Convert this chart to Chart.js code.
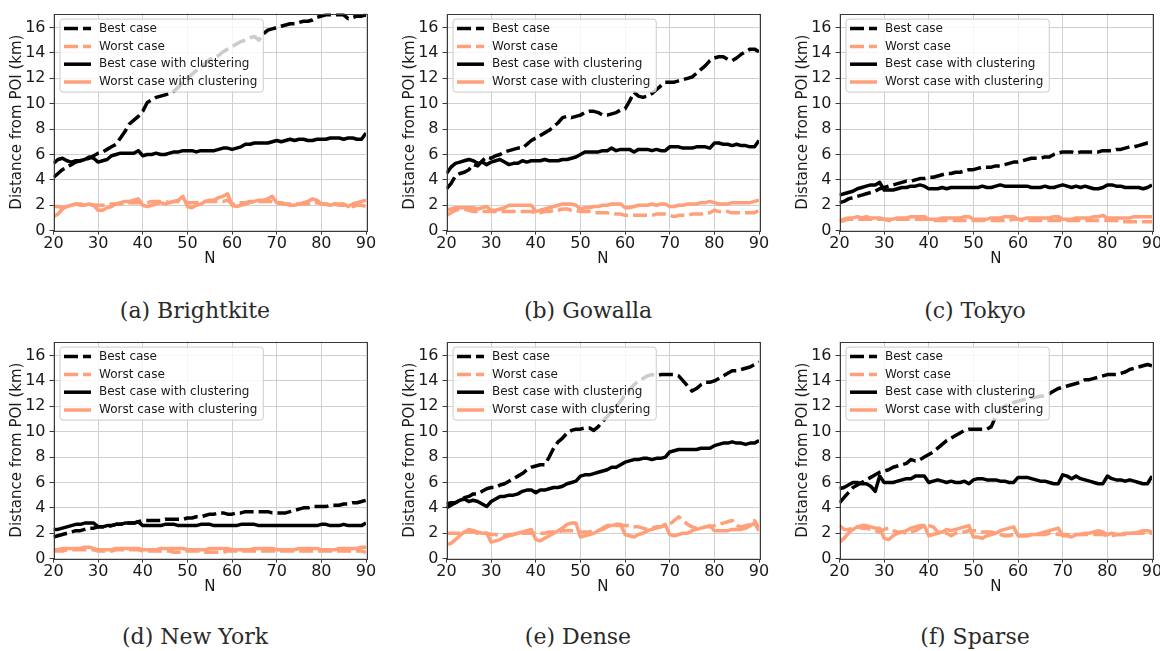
<!DOCTYPE html>
<html>
<head>
<meta charset="utf-8">
<script src="https://cdn.jsdelivr.net/npm/chart.js@4.4.1/dist/chart.umd.min.js"></script>
<style>
    body { margin: 0; background: #fff; width: 1160px; height: 651px; position: relative; overflow: hidden; }
    .panel { position: absolute; width: 380px; height: 272px; }
    .caption { position: absolute; width: 390px; text-align: center; font-family: "DejaVu Serif", serif; font-size: 22px; color: #2a2a2a; line-height: 24px; }
</style>
</head>
<body>
<canvas id="brightkite" class="panel" width="380" height="272" style="left:0px;top:0px"></canvas>
<canvas id="gowalla" class="panel" width="380" height="272" style="left:393px;top:0px"></canvas>
<canvas id="tokyo" class="panel" width="380" height="272" style="left:786px;top:0px"></canvas>
<canvas id="newyork" class="panel" width="380" height="272" style="left:0px;top:328px"></canvas>
<canvas id="dense" class="panel" width="380" height="272" style="left:393px;top:328px"></canvas>
<canvas id="sparse" class="panel" width="380" height="272" style="left:786px;top:328px"></canvas>

<div class="caption" style="left:0px;top:299px">(a) Brightkite</div>
<div class="caption" style="left:393px;top:299px">(b) Gowalla</div>
<div class="caption" style="left:780px;top:299px">(c) Tokyo</div>
<div class="caption" style="left:0px;top:625px">(d) New York</div>
<div class="caption" style="left:383px;top:625px">(e) Dense</div>
<div class="caption" style="left:780px;top:625px">(f) Sparse</div>

<script>
const N = [20, 21, 22, 23, 24, 25, 26, 27, 28, 29,
    30, 31, 32, 33, 34, 35, 36, 37, 38, 39,
    40, 41, 42, 43, 44, 45, 46, 47, 48, 49,
    50, 51, 52, 53, 54, 55, 56, 57, 58, 59,
    60, 61, 62, 63, 64, 65, 66, 67, 68, 69,
    70, 71, 72, 73, 74, 75, 76, 77, 78, 79,
    80, 81, 82, 83, 84, 85, 86, 87, 88, 89,
    90];

const SERIES_NAMES = ["Best case", "Worst case", "Best case with clustering", "Worst case with clustering"];

// Brightkite
const brightkiteBest = [4.2, 4.5, 4.8, 5.0, 5.2, 5.4, 5.5, 5.6, 5.7, 5.9, 6.1, 6.2, 6.4, 6.6, 6.8, 7.3, 7.8, 8.4, 8.7, 9.0, 9.4, 10.1, 10.3, 10.5, 10.6, 10.7, 10.8, 11.0, 11.3, 11.7, 12.0, 12.3, 12.6, 12.9, 13.2, 13.5, 13.7, 13.8, 14.1, 14.3, 14.5, 14.7, 14.9, 15.0, 15.2, 15.3, 15.0, 15.5, 15.8, 15.9, 16.0, 16.1, 16.2, 16.3, 16.3, 16.4, 16.5, 16.5, 16.6, 16.8, 16.9, 17.0, 17.0, 17.0, 17.0, 17.0, 16.7, 16.8, 16.9, 16.9, 17.0];
const brightkiteWorst = [1.9, 1.9, 1.8, 1.9, 2.0, 2.1, 2.1, 2.0, 2.0, 2.0, 2.0, 2.0, 2.0, 2.1, 2.1, 2.1, 2.2, 2.2, 2.2, 2.2, 2.2, 2.2, 2.3, 2.3, 2.3, 2.3, 2.2, 2.3, 2.3, 2.3, 2.2, 2.2, 2.2, 2.3, 2.3, 2.3, 2.3, 2.3, 2.3, 2.4, 2.1, 2.1, 2.2, 2.2, 2.3, 2.3, 2.3, 2.3, 2.3, 2.3, 2.2, 2.2, 2.1, 2.1, 2.1, 2.1, 2.1, 2.1, 2.2, 2.2, 2.1, 2.1, 2.0, 2.1, 2.0, 2.0, 2.0, 1.9, 2.0, 2.0, 1.9];
const brightkiteBestClust = [5.3, 5.6, 5.7, 5.5, 5.4, 5.5, 5.5, 5.6, 5.8, 5.7, 5.4, 5.5, 5.6, 5.9, 6.0, 6.1, 6.1, 6.1, 6.1, 6.3, 5.9, 6.0, 6.0, 6.1, 6.0, 6.0, 6.1, 6.2, 6.2, 6.3, 6.3, 6.3, 6.2, 6.3, 6.3, 6.3, 6.3, 6.4, 6.5, 6.5, 6.4, 6.5, 6.6, 6.8, 6.8, 6.9, 6.9, 6.9, 6.9, 7.0, 7.1, 7.0, 7.1, 7.2, 7.1, 7.2, 7.2, 7.1, 7.1, 7.2, 7.2, 7.2, 7.3, 7.3, 7.3, 7.2, 7.3, 7.3, 7.2, 7.2, 7.7];
const brightkiteWorstClust = [1.1, 1.3, 1.7, 1.9, 2.0, 2.1, 2.0, 2.0, 2.1, 2.0, 1.6, 1.6, 1.8, 1.9, 2.1, 2.2, 2.3, 2.3, 2.4, 2.5, 2.0, 1.9, 2.0, 2.1, 2.2, 2.1, 2.2, 2.3, 2.4, 2.7, 1.9, 1.8, 2.0, 2.1, 2.3, 2.4, 2.4, 2.6, 2.7, 2.9, 2.0, 1.9, 2.0, 2.1, 2.2, 2.3, 2.4, 2.4, 2.5, 2.7, 2.2, 2.1, 2.1, 2.0, 2.0, 2.1, 2.2, 2.3, 2.5, 2.4, 2.1, 2.1, 2.0, 2.1, 2.1, 2.1, 1.9, 2.1, 2.2, 2.3, 2.4];

// Gowalla
const gowallaBest = [3.3, 3.7, 4.3, 4.5, 4.6, 4.8, 5.2, 5.1, 5.5, 5.8, 5.7, 5.9, 6.0, 6.2, 6.3, 6.4, 6.5, 6.5, 6.8, 7.1, 7.3, 7.5, 7.7, 7.9, 8.2, 8.5, 8.9, 9.0, 8.9, 9.0, 9.1, 9.3, 9.4, 9.4, 9.3, 9.1, 9.1, 9.2, 9.3, 9.5, 9.6, 10.2, 10.9, 10.6, 10.5, 10.6, 10.8, 11.1, 11.4, 11.7, 11.7, 11.7, 11.8, 11.9, 12.0, 12.1, 12.4, 12.7, 13.0, 13.4, 13.6, 13.7, 13.7, 13.5, 13.4, 13.6, 13.9, 14.1, 14.3, 14.3, 14.1];
const gowallaWorst = [1.2, 1.4, 1.6, 1.7, 1.7, 1.6, 1.5, 1.5, 1.5, 1.5, 1.5, 1.5, 1.5, 1.5, 1.5, 1.5, 1.5, 1.5, 1.5, 1.5, 1.4, 1.4, 1.5, 1.5, 1.6, 1.6, 1.7, 1.7, 1.6, 1.6, 1.5, 1.5, 1.5, 1.4, 1.4, 1.4, 1.4, 1.3, 1.3, 1.3, 1.2, 1.2, 1.2, 1.2, 1.2, 1.2, 1.2, 1.3, 1.3, 1.3, 1.2, 1.1, 1.2, 1.2, 1.2, 1.3, 1.3, 1.3, 1.4, 1.4, 1.6, 1.5, 1.5, 1.5, 1.4, 1.4, 1.4, 1.4, 1.4, 1.4, 1.6];
const gowallaBestClust = [4.5, 5.0, 5.3, 5.4, 5.5, 5.6, 5.5, 5.3, 5.4, 5.2, 5.4, 5.5, 5.6, 5.4, 5.2, 5.3, 5.3, 5.5, 5.4, 5.5, 5.5, 5.5, 5.6, 5.5, 5.5, 5.5, 5.6, 5.6, 5.7, 5.8, 6.0, 6.2, 6.2, 6.2, 6.2, 6.3, 6.3, 6.5, 6.3, 6.4, 6.4, 6.4, 6.2, 6.4, 6.4, 6.4, 6.3, 6.4, 6.3, 6.3, 6.6, 6.6, 6.6, 6.5, 6.5, 6.5, 6.6, 6.6, 6.6, 6.5, 6.9, 6.9, 6.8, 6.8, 6.7, 6.8, 6.7, 6.7, 6.6, 6.6, 7.1];
const gowallaWorstClust = [1.6, 1.7, 1.8, 1.8, 1.8, 1.8, 1.8, 1.7, 1.8, 1.9, 1.6, 1.6, 1.7, 1.8, 2.0, 2.0, 2.0, 2.0, 2.0, 2.0, 1.5, 1.6, 1.7, 1.8, 1.9, 2.0, 2.1, 2.1, 2.1, 2.0, 1.7, 1.8, 1.8, 1.9, 1.9, 2.0, 2.0, 2.1, 2.1, 2.1, 1.8, 1.8, 1.9, 2.0, 2.0, 2.0, 2.1, 2.0, 2.1, 2.1, 1.9, 1.9, 2.0, 2.0, 2.1, 2.1, 2.1, 2.2, 2.2, 2.3, 2.2, 2.1, 2.1, 2.1, 2.2, 2.2, 2.2, 2.2, 2.2, 2.3, 2.4];

// Tokyo
const tokyoBest = [2.2, 2.3, 2.5, 2.6, 2.7, 2.8, 2.9, 3.0, 3.1, 3.3, 3.4, 3.5, 3.6, 3.7, 3.8, 3.9, 3.9, 4.0, 4.1, 4.1, 4.2, 4.2, 4.3, 4.4, 4.5, 4.5, 4.6, 4.6, 4.7, 4.8, 4.8, 4.9, 5.0, 5.0, 5.0, 5.1, 5.1, 5.2, 5.3, 5.4, 5.4, 5.5, 5.6, 5.7, 5.7, 5.7, 5.8, 5.8, 6.0, 6.1, 6.2, 6.2, 6.2, 6.1, 6.2, 6.2, 6.2, 6.2, 6.2, 6.3, 6.3, 6.3, 6.4, 6.4, 6.5, 6.6, 6.6, 6.7, 6.8, 6.9, 6.9];
const tokyoWorst = [0.7, 0.8, 0.9, 0.9, 0.9, 0.9, 0.9, 0.9, 0.9, 0.9, 0.9, 0.8, 0.8, 0.9, 0.9, 0.9, 0.9, 0.9, 0.9, 0.9, 0.9, 0.8, 0.8, 0.8, 0.8, 0.8, 0.8, 0.8, 0.8, 0.8, 0.8, 0.8, 0.8, 0.8, 0.8, 0.8, 0.8, 0.8, 0.8, 0.9, 0.9, 0.8, 0.8, 0.8, 0.8, 0.8, 0.8, 0.8, 0.8, 0.8, 0.8, 0.8, 0.8, 0.8, 0.8, 0.8, 0.8, 0.8, 0.8, 0.8, 0.8, 0.8, 0.8, 0.7, 0.7, 0.7, 0.7, 0.7, 0.7, 0.7, 0.7];
const tokyoBestClust = [2.8, 2.9, 3.0, 3.1, 3.3, 3.4, 3.5, 3.6, 3.6, 3.8, 3.2, 3.2, 3.2, 3.3, 3.4, 3.4, 3.5, 3.5, 3.6, 3.5, 3.3, 3.3, 3.3, 3.4, 3.3, 3.4, 3.4, 3.4, 3.4, 3.4, 3.4, 3.4, 3.5, 3.4, 3.4, 3.5, 3.6, 3.5, 3.5, 3.5, 3.5, 3.5, 3.5, 3.4, 3.4, 3.4, 3.5, 3.4, 3.4, 3.5, 3.6, 3.5, 3.4, 3.5, 3.4, 3.5, 3.4, 3.3, 3.3, 3.4, 3.6, 3.6, 3.5, 3.5, 3.4, 3.4, 3.4, 3.4, 3.3, 3.4, 3.6];
const tokyoWorstClust = [0.8, 0.9, 1.0, 1.0, 1.1, 1.0, 1.1, 1.0, 1.0, 1.0, 0.9, 0.9, 0.9, 1.0, 1.0, 1.0, 1.1, 1.1, 1.1, 1.1, 0.9, 0.9, 0.9, 1.0, 1.0, 1.0, 1.0, 1.0, 1.1, 1.1, 0.9, 0.9, 0.9, 0.9, 1.0, 1.0, 1.0, 1.1, 1.1, 1.1, 0.9, 0.9, 1.0, 1.0, 1.0, 1.0, 1.0, 1.0, 1.1, 1.1, 0.9, 0.9, 0.9, 1.0, 1.0, 1.0, 1.0, 1.1, 1.1, 1.2, 1.0, 1.0, 1.0, 1.0, 1.0, 1.0, 1.1, 1.1, 1.1, 1.1, 1.1];

// New York
const newYorkBest = [1.7, 1.8, 1.9, 2.0, 2.1, 2.2, 2.2, 2.3, 2.4, 2.4, 2.5, 2.5, 2.5, 2.6, 2.7, 2.7, 2.8, 2.8, 2.8, 2.9, 3.0, 3.0, 3.0, 3.0, 3.0, 3.1, 3.1, 3.1, 3.1, 3.1, 3.2, 3.2, 3.3, 3.3, 3.4, 3.5, 3.5, 3.6, 3.6, 3.5, 3.5, 3.6, 3.6, 3.7, 3.7, 3.7, 3.7, 3.7, 3.7, 3.6, 3.6, 3.6, 3.6, 3.7, 3.8, 3.9, 4.0, 4.0, 4.1, 4.1, 4.1, 4.1, 4.2, 4.2, 4.2, 4.3, 4.3, 4.4, 4.4, 4.5, 4.6];
const newYorkWorst = [0.6, 0.6, 0.6, 0.7, 0.7, 0.7, 0.7, 0.7, 0.7, 0.7, 0.6, 0.6, 0.6, 0.6, 0.7, 0.7, 0.7, 0.7, 0.7, 0.7, 0.6, 0.6, 0.6, 0.6, 0.6, 0.6, 0.6, 0.5, 0.5, 0.6, 0.6, 0.6, 0.6, 0.6, 0.5, 0.5, 0.5, 0.5, 0.5, 0.6, 0.6, 0.6, 0.6, 0.6, 0.6, 0.6, 0.6, 0.6, 0.6, 0.6, 0.6, 0.6, 0.6, 0.6, 0.6, 0.6, 0.6, 0.6, 0.6, 0.6, 0.6, 0.6, 0.6, 0.6, 0.6, 0.6, 0.6, 0.6, 0.6, 0.6, 0.5];
const newYorkBestClust = [2.3, 2.3, 2.4, 2.5, 2.6, 2.7, 2.7, 2.8, 2.8, 2.8, 2.5, 2.5, 2.6, 2.6, 2.7, 2.7, 2.8, 2.8, 2.8, 2.9, 2.6, 2.6, 2.6, 2.6, 2.6, 2.7, 2.7, 2.7, 2.6, 2.6, 2.6, 2.6, 2.6, 2.7, 2.7, 2.7, 2.6, 2.6, 2.6, 2.6, 2.6, 2.6, 2.7, 2.7, 2.7, 2.7, 2.6, 2.6, 2.6, 2.6, 2.6, 2.6, 2.6, 2.6, 2.6, 2.6, 2.6, 2.6, 2.6, 2.6, 2.7, 2.7, 2.6, 2.6, 2.6, 2.7, 2.6, 2.6, 2.6, 2.6, 2.8];
const newYorkWorstClust = [0.7, 0.7, 0.8, 0.8, 0.8, 0.8, 0.8, 0.9, 0.9, 0.8, 0.7, 0.7, 0.7, 0.7, 0.8, 0.8, 0.8, 0.8, 0.8, 0.8, 0.7, 0.7, 0.7, 0.7, 0.8, 0.8, 0.8, 0.8, 0.8, 0.8, 0.7, 0.7, 0.7, 0.7, 0.7, 0.8, 0.8, 0.8, 0.8, 0.8, 0.7, 0.7, 0.7, 0.7, 0.7, 0.8, 0.8, 0.8, 0.8, 0.8, 0.7, 0.7, 0.7, 0.7, 0.7, 0.8, 0.8, 0.8, 0.8, 0.8, 0.7, 0.7, 0.7, 0.7, 0.8, 0.8, 0.8, 0.8, 0.8, 0.9, 0.9];

// Dense
const denseBest = [4.0, 4.2, 4.4, 4.6, 4.8, 4.9, 5.1, 5.1, 5.3, 5.5, 5.6, 5.6, 5.8, 5.9, 6.1, 6.3, 6.5, 6.7, 7.0, 7.2, 7.3, 7.4, 7.4, 8.0, 8.7, 9.2, 9.5, 9.9, 10.1, 10.2, 10.2, 10.3, 10.3, 10.1, 10.4, 10.8, 11.2, 11.6, 12.0, 12.4, 12.9, 13.3, 13.7, 14.0, 14.2, 14.4, 14.5, 14.4, 14.5, 14.5, 14.5, 14.5, 14.4, 14.0, 13.6, 13.2, 13.4, 13.7, 13.9, 13.9, 14.0, 14.2, 14.4, 14.6, 14.8, 14.8, 14.9, 15.0, 15.1, 15.3, 15.5];
const denseWorst = [2.0, 2.0, 2.0, 2.0, 2.1, 2.1, 2.1, 2.0, 2.0, 2.0, 1.9, 1.9, 1.8, 1.8, 1.9, 1.9, 2.0, 2.0, 2.0, 2.0, 2.0, 2.0, 2.0, 2.1, 2.1, 2.1, 2.2, 2.2, 2.2, 2.2, 2.1, 2.1, 2.1, 2.2, 2.2, 2.3, 2.5, 2.6, 2.6, 2.6, 2.6, 2.6, 2.5, 2.5, 2.4, 2.3, 2.4, 2.5, 2.5, 2.6, 2.7, 3.0, 3.3, 3.0, 2.7, 2.5, 2.4, 2.4, 2.5, 2.5, 2.6, 2.7, 2.8, 2.9, 3.0, 2.6, 2.5, 2.6, 2.7, 3.0, 2.4];
const denseBestClust = [4.3, 4.4, 4.4, 4.6, 4.7, 4.5, 4.6, 4.5, 4.3, 4.1, 4.5, 4.7, 4.9, 4.9, 5.0, 5.0, 5.1, 5.3, 5.4, 5.4, 5.2, 5.4, 5.4, 5.5, 5.6, 5.6, 5.7, 5.9, 6.0, 6.1, 6.5, 6.6, 6.6, 6.7, 6.8, 6.9, 7.0, 7.2, 7.2, 7.4, 7.6, 7.7, 7.8, 7.8, 7.9, 7.9, 7.8, 7.9, 7.9, 8.0, 8.4, 8.5, 8.6, 8.6, 8.6, 8.6, 8.6, 8.7, 8.7, 8.7, 8.9, 9.0, 9.1, 9.1, 9.2, 9.1, 9.1, 9.0, 9.1, 9.1, 9.3];
const denseWorstClust = [1.1, 1.2, 1.5, 1.8, 2.1, 2.3, 2.2, 2.1, 2.0, 2.0, 1.3, 1.4, 1.5, 1.7, 1.8, 1.9, 2.0, 2.1, 2.2, 2.3, 1.5, 1.4, 1.6, 1.8, 2.0, 2.2, 2.4, 2.7, 2.8, 2.8, 1.7, 1.8, 1.9, 2.0, 2.2, 2.4, 2.6, 2.6, 2.7, 2.7, 1.9, 1.8, 1.7, 1.9, 2.0, 2.2, 2.3, 2.4, 2.5, 2.7, 1.9, 1.8, 1.9, 2.0, 2.0, 2.2, 2.3, 2.4, 2.5, 2.6, 2.2, 2.2, 2.2, 2.2, 2.3, 2.3, 2.3, 2.4, 2.6, 2.8, 2.2];

// Sparse
const sparseBest = [4.4, 4.8, 5.2, 5.6, 5.8, 6.0, 6.2, 6.4, 6.6, 6.8, 6.9, 7.0, 7.2, 7.3, 7.4, 7.5, 7.8, 7.7, 7.8, 8.0, 8.2, 8.4, 8.7, 9.0, 9.3, 9.5, 9.7, 9.9, 10.1, 10.2, 10.2, 10.2, 10.2, 10.2, 10.4, 11.2, 11.8, 12.0, 12.2, 12.3, 12.4, 12.5, 12.6, 12.7, 12.7, 12.8, 12.8, 13.0, 13.2, 13.4, 13.5, 13.6, 13.7, 13.8, 13.9, 14.1, 14.1, 14.2, 14.3, 14.4, 14.5, 14.5, 14.5, 14.6, 14.7, 14.9, 15.0, 15.1, 15.2, 15.3, 15.2];
const sparseWorst = [2.6, 2.3, 2.3, 2.4, 2.5, 2.4, 2.4, 2.3, 2.2, 2.1, 2.3, 2.4, 2.2, 2.1, 2.1, 2.0, 2.1, 2.2, 2.4, 2.6, 2.6, 2.5, 2.1, 2.0, 2.0, 1.8, 2.0, 2.1, 2.1, 2.2, 2.2, 2.2, 2.1, 2.1, 2.1, 2.0, 1.9, 1.8, 1.8, 1.9, 1.8, 1.8, 1.8, 1.9, 1.9, 1.9, 1.9, 2.0, 2.0, 1.9, 1.9, 1.9, 1.8, 1.9, 1.9, 1.9, 1.9, 1.9, 1.9, 1.9, 1.8, 1.8, 1.9, 1.9, 1.9, 2.0, 2.0, 2.0, 2.0, 2.0, 2.0];
const sparseBestClust = [5.5, 5.6, 5.8, 6.0, 6.0, 5.9, 5.9, 5.7, 5.3, 6.5, 6.0, 6.0, 6.0, 6.1, 6.2, 6.3, 6.3, 6.5, 6.5, 6.5, 6.0, 6.1, 6.2, 6.1, 6.0, 6.1, 6.0, 6.0, 6.1, 5.9, 6.2, 6.3, 6.3, 6.2, 6.2, 6.2, 6.1, 6.1, 6.0, 6.0, 6.4, 6.4, 6.4, 6.3, 6.2, 6.1, 6.1, 6.0, 5.9, 5.9, 6.6, 6.5, 6.3, 6.5, 6.3, 6.2, 6.1, 6.0, 5.9, 5.9, 6.5, 6.3, 6.2, 6.2, 6.1, 6.2, 6.1, 6.0, 5.9, 5.9, 6.5];
const sparseWorstClust = [1.3, 1.6, 2.0, 2.3, 2.5, 2.6, 2.6, 2.5, 2.4, 2.4, 1.6, 1.5, 1.8, 2.0, 2.1, 2.2, 2.4, 2.5, 2.6, 2.6, 1.8, 1.9, 2.0, 2.1, 2.3, 2.2, 2.3, 2.4, 2.5, 2.6, 1.7, 1.7, 1.6, 1.8, 1.9, 2.0, 2.2, 2.3, 2.4, 2.5, 1.8, 1.8, 1.8, 1.9, 1.9, 2.0, 2.1, 2.2, 2.3, 2.4, 1.8, 1.8, 1.7, 1.9, 1.9, 2.0, 2.0, 2.1, 2.2, 2.1, 1.9, 2.0, 1.9, 1.9, 2.0, 2.0, 2.0, 2.1, 2.2, 2.2, 2.1];

const BLACK = "#000000";
const SALMON = "#ffa07a";
const TEXT = "#1a1a1a";

Chart.defaults.font.family = "'DejaVu Sans', sans-serif";
Chart.defaults.color = TEXT;

// frame on all four sides plus a legend box inside the axes, semi-transparent
const overlayLegend = {
    id: "overlayLegend",
    afterDatasetsDraw(chart) {
        const { ctx, chartArea } = chart;

        ctx.save();
        ctx.strokeStyle = "#3a3a3a";
        ctx.lineWidth = 1;
        ctx.strokeRect(Math.round(chartArea.left) + 0.5, Math.round(chartArea.top) + 0.5,
            Math.round(chartArea.right - chartArea.left), Math.round(chartArea.bottom - chartArea.top));

        const x0 = chartArea.left + 6.5;
        const y0 = chartArea.top + 5.5;
        ctx.font = "12px 'DejaVu Sans'";
        const items = chart.data.datasets;
        const textWidth = Math.max(...items.map((d) => ctx.measureText(d.label).width));
        const w = 39 + textWidth + 6;
        const h = 73;

        ctx.beginPath();
        ctx.roundRect(x0, y0, w, h, 3);
        ctx.fillStyle = "rgba(255, 255, 255, 0.8)";
        ctx.fill();
        ctx.strokeStyle = "#cccccc";
        ctx.lineWidth = 1;
        ctx.stroke();

        items.forEach((d, i) => {
            const y = y0 + 9.5 + i * 17.8;
            ctx.beginPath();
            ctx.setLineDash(d.borderDash || []);
            ctx.strokeStyle = d.borderColor;
            ctx.lineWidth = d.borderWidth;
            ctx.moveTo(x0 + 4, y);
            ctx.lineTo(x0 + 31, y);
            ctx.stroke();
            ctx.setLineDash([]);
            ctx.fillStyle = TEXT;
            ctx.textBaseline = "middle";
            ctx.fillText(d.label, x0 + 39, y);
        });
        ctx.restore();
    }
};

const toPoints = (values) => values.map((v, i) => ({ x: N[i], y: v }));

const makeDataset = (index, values) => ({
    label: SERIES_NAMES[index],
    data: toPoints(values),
    borderColor: index % 2 === 0 ? BLACK : SALMON,
    borderWidth: 3.5,
    borderDash: index < 2 ? [14, 5] : [],
    borderJoinStyle: "round",
    pointRadius: 0,
    tension: 0,
    order: 3 - index
});

const create = (id, series) => {
    const canvas = document.getElementById(id);
    const tickFont = { size: 16 };

    return new Chart(canvas, {
        type: "line",
        data: {
            datasets: series.map((values, i) => makeDataset(i, values))
        },
        options: {
            responsive: false,
            animation: false,
            devicePixelRatio: 1,
            layout: { padding: { top: 12.7, right: 14, left: 0, bottom: 0 } },
            scales: {
                x: {
                    type: "linear",
                    min: 20,
                    max: 90,
                    ticks: { stepSize: 10, font: tickFont, color: TEXT, padding: 0 },
                    grid: { color: "#d0d0d0", lineWidth: 1, tickLength: 4, tickColor: "#3a3a3a" },
                    border: { display: false },
                    title: { display: true, text: "N", font: { size: 15 }, color: TEXT, padding: { top: 0, bottom: 4 } },
                    afterFit: (scale) => { scale.height = 272 - 230.6; }
                },
                y: {
                    min: 0,
                    max: 17.1,
                    ticks: { stepSize: 2, includeBounds: false, font: tickFont, color: TEXT, padding: 4 },
                    grid: { color: "#d0d0d0", lineWidth: 1, tickLength: 4, tickColor: "#3a3a3a" },
                    border: { display: false },
                    title: { display: true, text: "Distance from POI (km)", font: { size: 15 }, color: TEXT, padding: { top: 8, bottom: 0 } },
                    afterFit: (scale) => { scale.width = 53.5; }
                }
            },
            plugins: {
                legend: { display: false },
                tooltip: { enabled: false }
            }
        },
        plugins: [overlayLegend]
    });
};

create("brightkite", [brightkiteBest, brightkiteWorst, brightkiteBestClust, brightkiteWorstClust]);
create("gowalla", [gowallaBest, gowallaWorst, gowallaBestClust, gowallaWorstClust]);
create("tokyo", [tokyoBest, tokyoWorst, tokyoBestClust, tokyoWorstClust]);
create("newyork", [newYorkBest, newYorkWorst, newYorkBestClust, newYorkWorstClust]);
create("dense", [denseBest, denseWorst, denseBestClust, denseWorstClust]);
create("sparse", [sparseBest, sparseWorst, sparseBestClust, sparseWorstClust]);
</script>
</body>
</html>
